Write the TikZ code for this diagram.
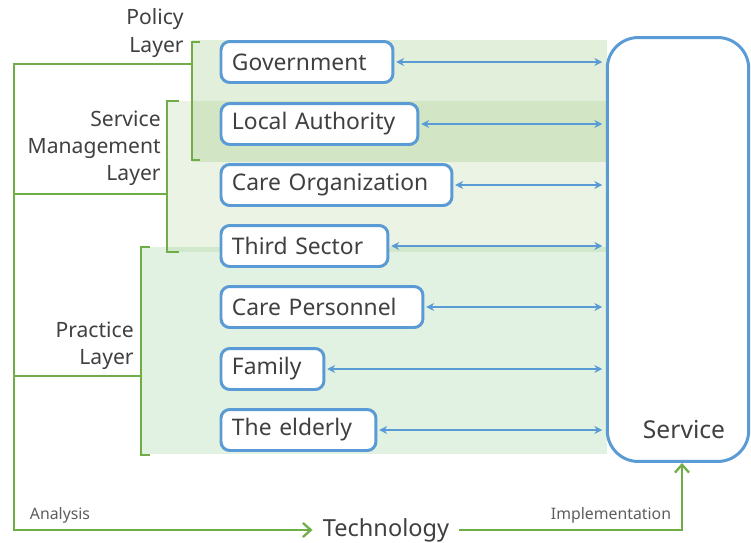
\documentclass[tikz,border=0pt]{standalone}
\usepackage{fontspec}
\setmainfont{Noto Sans}
\usetikzlibrary{positioning, arrows.meta}

\definecolor{boxblue}{RGB}{91,155,213}
\definecolor{layergreen}{RGB}{112,173,71}
\definecolor{practicegreen}{RGB}{112,191,112}
\definecolor{textgray}{RGB}{64,64,64}

\tikzset{
  actor/.style={draw=boxblue, line width=1.7pt, rounded corners=5pt, fill=white,
    anchor=west, minimum height=0.82cm, inner xsep=0.22cm, align=left,
    text=textgray, font=\fontsize{13}{15}\selectfont, text width=#1},
  layer/.style={anchor=east, align=right, inner xsep=0pt, text=textgray,
    font=\fontsize{12}{15.5}\selectfont},
  bracket/.style={draw=layergreen, line width=1.3pt},
  link/.style={draw=boxblue, line width=1.2pt,
    {Stealth[length=4.5pt,width=4.5pt]}-{Stealth[length=4.5pt,width=4.5pt]},
    shorten <=1pt, shorten >=2pt},
  flow/.style={draw=layergreen, line width=1.3pt, -{Straight Barb[length=4.5pt,width=8pt]}},
  small/.style={text=textgray!85, font=\fontsize{9}{11}\selectfont}
}

\begin{document}
\begin{tikzpicture}[x=0.02cm, y=-0.02cm]
    \useasboundingbox (0,0) rectangle (751,542);

    \fill[layergreen, fill opacity=0.2] (192,40) rectangle (607,162);
    \fill[layergreen, fill opacity=0.15] (168,101) rectangle (607,252);
    \fill[practicegreen, fill opacity=0.2] (141,247) rectangle (607,454);

    \node[draw=boxblue, line width=1.7pt, rounded corners=0.62cm, fill=white,
          minimum width=2.83cm, minimum height=8.48cm] (service) at (678,249.5) {};
    \node[text=textgray, font=\fontsize{14}{16}\selectfont] (servicename) at (684,430) {Service};

    \node[actor=3.00cm] (gov) at (219.5,62) {Government};
    \node[actor=3.50cm] (local) at (219.5,124) {Local Authority};
    \node[actor=4.18cm] (careorg) at (219.5,185) {Care Organization};
    \node[actor=2.90cm] (third) at (219.5,246) {Third Sector};
    \node[actor=3.60cm] (personnel) at (219.5,307) {Care Personnel};
    \node[actor=1.62cm] (family) at (219.5,369) {Family};
    \node[actor=2.66cm] (elderly) at (219.5,430) {The elderly};

    \draw[link] (gov) -- (gov -| service.west);
    \draw[link] (local) -- (local -| service.west);
    \draw[link] (careorg) -- (careorg -| service.west);
    \draw[link] (third) -- (third -| service.west);
    \draw[link] (personnel) -- (personnel -| service.west);
    \draw[link] (family) -- (family -| service.west);
    \draw[link] (elderly) -- (elderly -| service.west);

    \node[layer] (policy) at (184,33) {Policy\\Layer};
    \node[layer] (management) at (161,148) {Service\\Management\\Layer};
    \node[layer] (practice) at (134,346) {Practice\\Layer};

    \draw[bracket] (200,42) -- (192,42) -- (192,160) -- (200,160);
    \draw[bracket] (179,101) -- (167,101) -- (167,252) -- (179,252);
    \draw[bracket] (150,247) -- (141,247) -- (141,455) -- (150,455);

    \coordinate (policyjoin) at (192,64);
    \coordinate (managementjoin) at (167,194);
    \coordinate (practicejoin) at (141,376);

    \node[text=textgray, inner xsep=0.2cm, font=\fontsize{13.4}{15}\selectfont] (tech) at (386,530) {Technology};
    \node[small] (analysis) at (60,515) {Analysis};
    \node[small] (implementation) at (611,515) {Implementation};

    \draw[flow] (policyjoin) -- (14,64) |- (tech.west);
    \draw[bracket] (managementjoin) -- (managementjoin -| 14,0);
    \draw[bracket] (practicejoin) -- (practicejoin -| 14,0);
    \draw[flow] (tech.east) -| ([xshift=0.08cm]service.south);
\end{tikzpicture}
\end{document}
